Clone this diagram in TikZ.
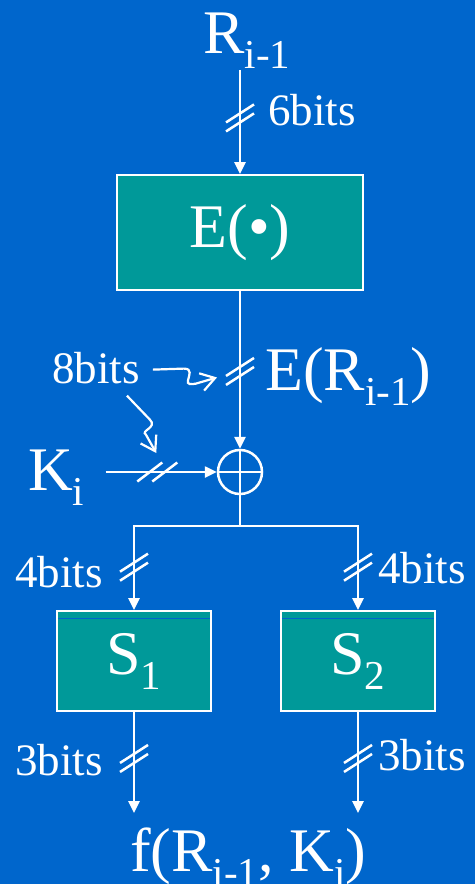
\documentclass[tikz,border=0pt]{standalone}
\usepackage{fontspec}
\setmainfont{Liberation Serif}
\usetikzlibrary{arrows.meta}
\definecolor{slideblue}{RGB}{0,102,204}
\definecolor{boxteal}{RGB}{0,153,153}
\newcommand{\bigtxt}{\fontsize{62}{62}\selectfont}
\newcommand{\bitstxt}{\fontsize{45}{45}\selectfont}
\newcommand{\lowidx}[1]{\raisebox{-15pt}{\fontsize{41}{41}\selectfont #1}}
\newcommand{\vbus}[1]{%
  \draw[wire] ([shift={(-14,4.5)}]#1) -- ++(28,-18)
              ([shift={(-14,13.5)}]#1) -- ++(28,-18);}
\newcommand{\hbus}[1]{%
  \draw[wire] ([shift={(-20,9.5)}]#1) -- ++(25,-19)
              ([shift={(-5,9.5)}]#1) -- ++(25,-19);}

\begin{document}
\begin{tikzpicture}[x=1pt, y=-1pt,
  wire/.style={white, line width=2.5pt},
  arr/.style={wire, -{Triangle[length=12pt,width=11pt]}},
  squig/.style={white, line width=2.2pt, -{Straight Barb[length=14pt,width=18pt]}},
  blk/.style={draw=white, fill=boxteal, line width=2pt, inner sep=0pt, text=white},
  lab/.style={text=white, inner sep=0pt}]
  \fill[slideblue] (0,0) rectangle (475,884);
  \useasboundingbox (0,0) rectangle (475,884);
  % blocks
  \node[lab, anchor=base] (Rin) at (247,53) {\bigtxt R\lowidx{i-1}};
  \node[blk, minimum width=246pt, minimum height=115pt] (Ebox) at (240,232.5) {\bigtxt E(\textbullet)};
  \node[circle, draw=white, line width=2.5pt, minimum size=44pt, inner sep=0pt] (xor) at (240,472) {};
  \draw[wire] (xor.north) -- (xor.south) (xor.west) -- (xor.east);
  \node[lab, anchor=base west] (Kin) at (28,490) {\bigtxt K\lowidx{i}};
  \node[blk, minimum width=154pt, minimum height=100pt] (S1) at (134,661) {\bigtxt S\lowidx{1}};
  \node[blk, minimum width=154pt, minimum height=100pt] (S2) at (358,661) {\bigtxt S\lowidx{2}};
  \draw[slideblue, line width=0.8pt] ([shift={(2,8)}]S1.north west) -- ([shift={(-2,8)}]S1.north east);
  \draw[slideblue, line width=0.8pt] ([shift={(2,8)}]S2.north west) -- ([shift={(-2,8)}]S2.north east);
  \node[lab, anchor=base west] (fout) at (130,871) {\bigtxt f(R\lowidx{i-1}, K\lowidx{i})};
  % widths
  \node[lab, anchor=base west] (b6) at (268,125) {\bitstxt 6bits};
  \node[lab, anchor=base west] (lER) at (265,390) {\bigtxt E(R\lowidx{i-1})};
  \node[lab, anchor=base west] (b8) at (52,383) {\bitstxt 8bits};
  \node[lab, anchor=base west] (b4l) at (15,587) {\bitstxt 4bits};
  \node[lab, anchor=base west] (b4r) at (378,583) {\bitstxt 4bits};
  \node[lab, anchor=base west] (b3l) at (15,775) {\bitstxt 3bits};
  \node[lab, anchor=base west] (b3r) at (378,770) {\bitstxt 3bits};
  % connectors
  \draw[arr, shorten <=2pt] (Ebox.north |- Rin.south) -- coordinate[pos=.47] (bR) (Ebox.north);
  \draw[arr] (Ebox.south) -- coordinate[pos=.51] (bE) (xor.north);
  \draw[arr, shorten <=21pt] (Kin.east |- xor.west) -- coordinate[pos=.55] (bK) (xor.west);
  \coordinate (split) at (240,526);
  \draw[wire] (xor.south) -- (split);
  \draw[wire, line cap=rect] (S1.north |- split) -- (S2.north |- split);
  \draw[arr] (S1.north |- split) -- coordinate[pos=.49] (b4a) (S1.north);
  \draw[arr] (S2.north |- split) -- coordinate[pos=.49] (b4b) (S2.north);
  \coordinate (o1) at (134,813);
  \coordinate (o2) at (358,813);
  \draw[arr] (S1.south) -- coordinate[pos=.46] (b3a) (o1);
  \draw[arr] (S2.south) -- coordinate[pos=.46] (b3b) (o2);
  \vbus{bR} \vbus{bE} \hbus{bK}
  \vbus{b4a} \vbus{b4b} \vbus{b3a} \vbus{b3b}
  % 8bits pointers
  \draw[squig] ([shift={(13,2)}]b8.east) -- ++(31,-1)
    .. controls +(9,0) and +(1,-5) .. ++(4,12)
    .. controls +(-1,4) and +(-5,1) .. ++(8,3) -- ([shift={(-23,6)}]bE);
  \draw[squig] ([shift={(-13,12)}]b8.south east) -- ++(23,24)
    .. controls +(8,8) and +(-6,-4) .. ++(-4,15) -- ([shift={(-1,-19)}]bK);
\end{tikzpicture}
\end{document}
